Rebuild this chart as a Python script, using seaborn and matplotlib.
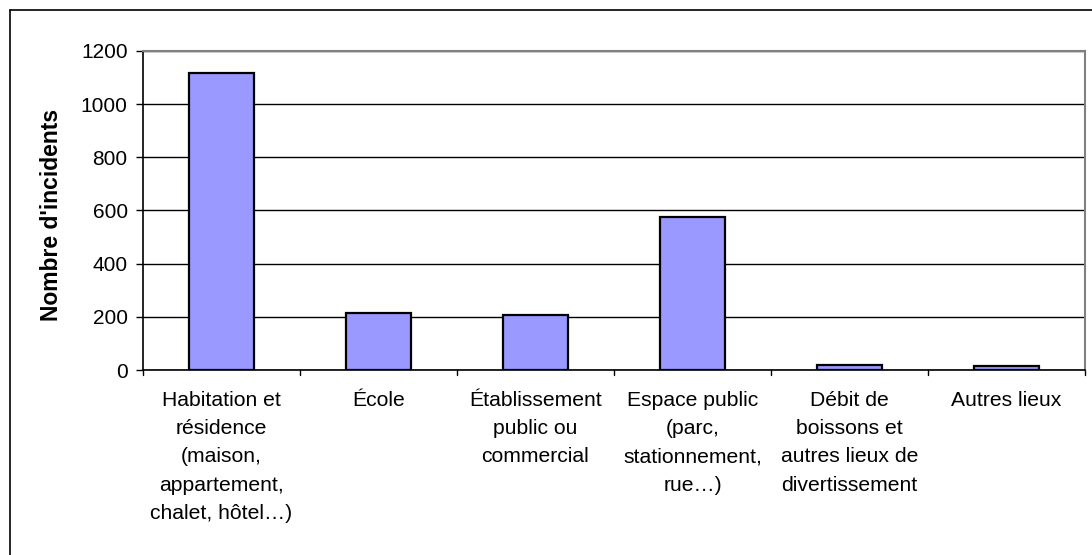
import matplotlib
matplotlib.use("Agg")
import matplotlib.pyplot as plt
import pandas as pd
import seaborn as sns
from matplotlib.lines import Line2D

# data
lieux = [
    "Habitation et\nrésidence\n(maison,\nappartement,\nchalet, hôtel…)",
    "École",
    "Établissement\npublic ou\ncommercial",
    "Espace public\n(parc,\nstationnement,\nrue…)",
    "Débit de\nboissons et\nautres lieux de\ndivertissement",
    "Autres lieux",
]
incidents = [1118, 214, 207, 577, 18, 16]
y_ticks = [0, 200, 400, 600, 800, 1000, 1200]

df = pd.DataFrame({"lieu": lieux, "incidents": incidents})

sns.set_theme(style="white")
plt.rcParams["font.family"] = ["Liberation Sans", "DejaVu Sans"]
plt.rcParams["text.color"] = "black"
plt.rcParams["axes.labelcolor"] = "black"
plt.rcParams["xtick.color"] = "black"
plt.rcParams["ytick.color"] = "black"

fig = plt.figure(figsize=(10.92, 5.55), dpi=100)
ax = fig.add_axes([143 / 1092, 1 - 370 / 555, (1085 - 143) / 1092, (370 - 51) / 555])

ax.set_axisbelow(True)
ax.yaxis.grid(True, color="black", linewidth=1.0)
sns.barplot(data=df, x="lieu", y="incidents", ax=ax, color="#9999FF",
            saturation=1, edgecolor="black", linewidth=1.6, width=0.41)

ax.set_ylim(0, 1200)
ax.set_xlim(-0.5, len(lieux) - 0.5)
ax.set_yticks(y_ticks)
ax.set_yticklabels([str(v) for v in y_ticks], fontsize=15)
ax.set_ylabel("Nombre d'incidents", fontsize=16.5, fontweight="bold", labelpad=6)
ax.yaxis.set_label_coords(-0.085, 0.485)
ax.set_xlabel("")

# category labels centered under bars, ticks at category boundaries
ax.set_xticks(range(len(lieux)))
ax.set_xticklabels(lieux, fontsize=15.2, linespacing=1.62, va="top", ha="center")
ax.tick_params(axis="x", length=0, pad=15)
ax.tick_params(axis="y", length=5, width=1, color="black", direction="out", left=True, pad=6)
for b in range(len(lieux) + 1):
    ax.add_line(Line2D([b - 0.5, b - 0.5], [0, -0.017], transform=ax.get_xaxis_transform(),
                       color="black", linewidth=1, clip_on=False))

for side in ["left", "bottom"]:
    ax.spines[side].set_color("black")
    ax.spines[side].set_linewidth(1.2)
for side in ["top", "right"]:
    ax.spines[side].set_color("#808080")
    ax.spines[side].set_linewidth(1.5)

# outer chart border (cut off on the right and bottom)
fig.add_artist(Line2D([10 / 1092, 1], [1 - 10 / 555, 1 - 10 / 555], color="black", linewidth=1.2))
fig.add_artist(Line2D([10 / 1092, 10 / 1092], [0, 1 - 10 / 555], color="black", linewidth=1.2))

fig.savefig("out.png", dpi=100)
